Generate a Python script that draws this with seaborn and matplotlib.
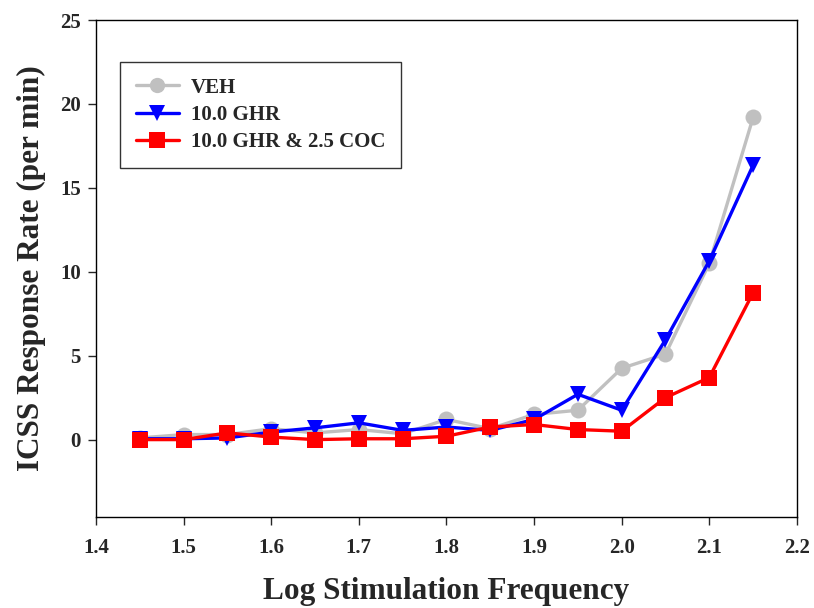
import numpy as np
import pandas as pd
import matplotlib
matplotlib.use("Agg")
import matplotlib.pyplot as plt
import seaborn as sns

freq = [1.45, 1.50, 1.55, 1.60, 1.65, 1.70, 1.75, 1.80, 1.85, 1.90, 1.95, 2.00, 2.05, 2.10, 2.15]
veh = [0.1, 0.3, 0.3, 0.65, 0.4, 0.6, 0.35, 1.2, 0.65, 1.5, 1.75, 4.25, 5.1, 10.5, 19.2]
ghr = [0.05, 0.05, 0.1, 0.45, 0.7, 1.0, 0.55, 0.75, 0.55, 1.2, 2.7, 1.75, 5.95, 10.65, 16.35]
ghr_coc = [0.0, 0.0, 0.4, 0.15, 0.0, 0.05, 0.05, 0.2, 0.75, 0.9, 0.6, 0.5, 2.5, 3.7, 8.75]
series_names = ["VEH", "10.0 GHR", "10.0 GHR & 2.5 COC"]
x_ticks = [1.4, 1.5, 1.6, 1.7, 1.8, 1.9, 2.0, 2.1, 2.2]
y_ticks = [0, 5, 10, 15, 20, 25]

df = pd.DataFrame({
    "freq": freq * 3,
    "rate": veh + ghr + ghr_coc,
    "group": [series_names[0]] * len(freq) + [series_names[1]] * len(freq) + [series_names[2]] * len(freq),
})

sns.set_style("ticks")
plt.rcParams["font.family"] = ["Liberation Serif", "DejaVu Serif"]
plt.rcParams["font.weight"] = "bold"

fig = plt.figure(figsize=(8.14, 6.08), dpi=100)
ax = fig.add_axes([0.118, 0.150, 0.861, 0.817])

palette = {series_names[0]: "#C0C0C0", series_names[1]: "#0000FF", series_names[2]: "#FF0000"}
markers = {series_names[0]: "o", series_names[1]: "v", series_names[2]: "s"}

sns.lineplot(data=df, x="freq", y="rate", hue="group", style="group",
             hue_order=series_names, style_order=series_names,
             palette=palette, markers=markers, dashes=False,
             linewidth=2.4, markersize=11.5, markeredgewidth=0,
             ax=ax, legend=True)

ax.set_xlim(1.4, 2.2)
ax.set_ylim(-4.6, 25)
ax.set_xticks(x_ticks)
ax.set_xticklabels([f"{t:.1f}" for t in x_ticks])
ax.set_yticks(y_ticks)
ax.set_yticklabels([str(t) for t in y_ticks])
ax.tick_params(axis="both", direction="out", length=6, width=1, labelsize=15,
               top=False, right=False)
ax.tick_params(axis="x", pad=9)
ax.tick_params(axis="y", pad=5)
for lab in ax.get_xticklabels() + ax.get_yticklabels():
    lab.set_fontweight("bold")
for sp in ax.spines.values():
    sp.set_visible(True)
    sp.set_linewidth(1.0)
    sp.set_color("black")

ax.set_xlabel("Log Stimulation Frequency", fontsize=22.5, fontweight="bold", labelpad=14)
ax.set_ylabel("ICSS Response Rate (per min)", fontsize=22.5, fontweight="bold", labelpad=10)

leg = ax.legend(loc="upper left", bbox_to_anchor=(0.034, 0.9155), frameon=True,
                fancybox=False, edgecolor="black", handlelength=2.1,
                borderpad=0.75, labelspacing=0.35, handletextpad=0.55,
                borderaxespad=0.0,
                prop={"weight": "bold", "size": 15})
leg.get_frame().set_linewidth(1.0)
for h in leg.legend_handles:
    h.set_markersize(11)

fig.savefig("out.png", dpi=100)
